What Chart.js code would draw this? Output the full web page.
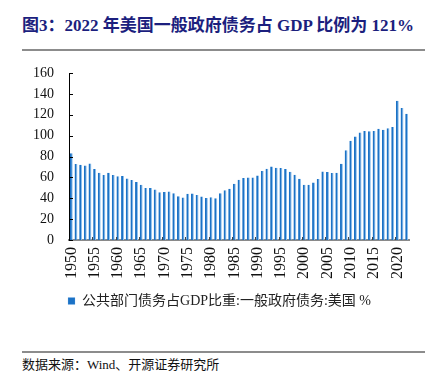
<!DOCTYPE html>
<html>
<head>
<meta charset="utf-8">
<script src="https://cdn.jsdelivr.net/npm/chart.js@4/dist/chart.umd.min.js"></script>
<style>
  html,body{margin:0;padding:0;background:#fff;}
  #wrap{position:relative;width:425px;height:383px;overflow:hidden;background:#fff;}
  #title{position:absolute;left:22px;top:11px;font:bold 17px "Liberation Serif","Noto Sans CJK SC",serif;color:#1c1f7e;white-space:nowrap;}
  .rule{position:absolute;left:22px;width:403px;height:2px;background:#8c8c8c;}
  #src{position:absolute;left:22px;top:354px;font:13px "Liberation Serif","Noto Sans CJK SC",serif;color:#111;white-space:nowrap;}
  #cv{position:absolute;left:0;top:0;}
</style>
</head>
<body>
<div id="wrap">
  <div id="title">图3：2022 年美国一般政府债务占 GDP 比例为 121%</div>
  <div class="rule" style="top:49px"></div>
  <div style="position:absolute;left:0;top:0;width:425px;height:318px;"><canvas id="cv" width="425" height="318"></canvas></div>
  <div class="rule" style="top:351px"></div>
  <div id="src">数据来源：Wind、开源证券研究所</div>
</div>
<script>
const years = [1950,1951,1952,1953,1954,1955,1956,1957,1958,1959,
  1960,1961,1962,1963,1964,1965,1966,1967,1968,1969,
  1970,1971,1972,1973,1974,1975,1976,1977,1978,1979,
  1980,1981,1982,1983,1984,1985,1986,1987,1988,1989,
  1990,1991,1992,1993,1994,1995,1996,1997,1998,1999,
  2000,2001,2002,2003,2004,2005,2006,2007,2008,2009,
  2010,2011,2012,2013,2014,2015,2016,2017,2018,2019,
  2020,2021,2022];
const debtRatio = [83.2,72.7,72.1,71.4,73.4,68.0,64.5,62.3,64.5,62.3,
  61.0,61.3,59.0,57.5,55.6,53.0,49.9,49.9,48.3,45.7,
  46.1,46.4,44.8,41.9,40.7,44.2,44.5,43.2,41.6,40.3,
  41.0,40.0,44.8,47.6,49.2,54.0,57.8,59.4,60.0,60.0,
  61.9,66.1,68.3,70.5,69.2,68.9,68.0,65.4,62.6,58.8,
  53.0,53.0,55.2,58.4,65.7,65.1,64.2,64.5,73.0,86.1,
  95.0,99.2,102.9,104.5,104.2,104.5,106.7,105.7,107.0,108.3,
  133.5,126.4,121.0];
const seriesName = '公共部门债务占GDP比重:一般政府债务:美国 %';
const yTicks = [0,20,40,60,80,100,120,140,160];

const serif = '"Liberation Serif","Noto Sans CJK SC",serif';

const innerTicks = {
  id: 'innerTicks',
  afterDatasetsDraw(chart) {
    const ctx = chart.ctx, ca = chart.chartArea;
    const ys = chart.scales.y, xs = chart.scales.x;
    ctx.save();
    ctx.strokeStyle = '#000';
    ctx.lineWidth = 1;
    yTicks.forEach(v => {
      const py = Math.round(ys.getPixelForValue(v)) + 0.5;
      ctx.beginPath(); ctx.moveTo(ca.left, py); ctx.lineTo(ca.left + 4, py); ctx.stroke();
    });
    ctx.strokeStyle = '#444';
    years.forEach((yr, i) => {
      if (yr % 5 === 0 && i > 0) {
        const px = Math.round((xs.getPixelForValue(i) + xs.getPixelForValue(i - 1)) / 2) + 0.5;
        ctx.beginPath(); ctx.moveTo(px, ca.bottom); ctx.lineTo(px, ca.bottom - 3); ctx.stroke();
      }
    });
    ctx.restore();
  }
};

new Chart(document.getElementById('cv'), {
  type: 'bar',
  data: {
    labels: years,
    datasets: [{
      label: seriesName,
      data: debtRatio,
      backgroundColor: '#1b72c6',
      borderColor: '#8ec0ee',
      borderWidth: {top:0, right:1, bottom:0, left:0},
      borderSkipped: false,
      barPercentage: 0.62,
      categoryPercentage: 1.0
    }]
  },
  options: {
    responsive: false,
    animation: false,
    devicePixelRatio: 1,
    layout: { padding: { left: 30, right: 16, top: 73, bottom: 0 } },
    plugins: {
      legend: {
        position: 'bottom',
        labels: {
          boxWidth: 7, boxHeight: 7, padding: 8,
          color: '#222',
          font: { family: serif, size: 14 }
        }
      },
      tooltip: { enabled: false }
    },
    scales: {
      x: {
        offset: true,
        grid: { display: false, drawTicks: false },
        border: { display: true, color: '#8a8a8a', width: 2 },
        afterFit: function(scale) { scale.paddingLeft = 0; scale.paddingRight = 0; },
        ticks: {
          autoSkip: false,
          minRotation: 90, maxRotation: 90,
          padding: 7,
          color: '#111',
          font: { family: serif, size: 16 },
          callback: function(v) { const yr = years[v]; return yr % 5 === 0 ? String(yr) : ''; }
        }
      },
      y: {
        min: 0, max: 160,
        grid: { display: false, drawTicks: false },
        border: { display: true, color: '#000', width: 1 },
        afterFit: function(scale) { scale.width = 39; },
        ticks: {
          stepSize: 20,
          padding: 15,
          color: '#111',
          font: { family: serif, size: 14 }
        }
      }
    }
  },
  plugins: [innerTicks]
});
</script>
</body>
</html>
